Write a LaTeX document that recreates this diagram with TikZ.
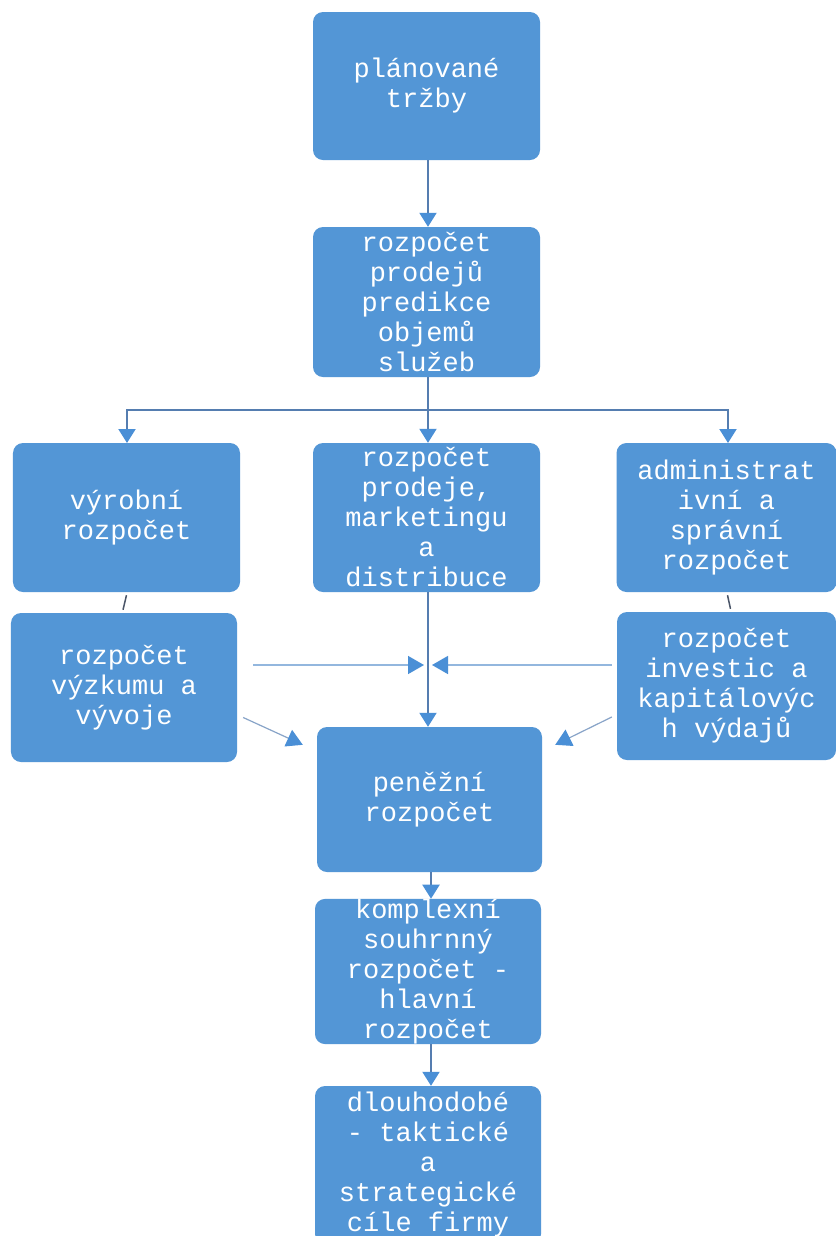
\documentclass[tikz,border=0pt]{standalone}
\usepackage{fontspec}
\setmonofont{Liberation Mono}
\usetikzlibrary{arrows.meta,calc}
\definecolor{boxblue}{HTML}{5396D6}
\definecolor{linec}{HTML}{557DB0}
\definecolor{tipc}{HTML}{4A8FD6}
\definecolor{thinc}{HTML}{93B7DE}
\definecolor{darkc}{HTML}{4A5568}
\tikzset{
  bx/.style={rectangle, rounded corners=10bp, fill=boxblue, text=white,
    font=\ttfamily\fontsize{27bp}{30bp}\selectfont, align=center,
    inner sep=0pt, minimum width=227bp, minimum height=149bp},
  conn/.style={draw=linec, line width=2bp,
    -{Triangle[width=17bp,length=14bp,color=tipc]}},
  plain/.style={draw=linec, line width=2bp},
  thinconn/.style={draw=thinc, line width=1.5bp,
    -{Triangle[width=18bp,length=16bp,color=tipc]}},
  diagconn/.style={draw=linec!70, line width=1.2bp,
    -{Triangle[width=18bp,length=16bp,color=tipc]}},
  tiny/.style={draw=darkc, line width=1.5bp}
}
\begin{document}
\begin{tikzpicture}[x=1bp,y=-1bp]
\fill[white] (0,0) rectangle (836,1236);
\useasboundingbox (0,0) rectangle (836,1236);

\node[bx, minimum height=148bp] (b1) at (426.5,86) {plánované\\tržby};
\node[bx, minimum height=150bp] (b2) at (426.5,302) {rozpočet\\prodejů\\predikce\\objemů\\služeb};
\node[bx] (b3L) at (126.5,517.5) {výrobní\\rozpočet};
\node[bx] (b3M) at (426.5,517.5) {rozpočet\\prodeje,\\marketingu\\a\\distribuce};
\node[bx, minimum width=220bp] (b3R) at (726.5,517.5) {administrat\\ivní a\\správní\\rozpočet};
\node[bx, minimum width=226bp] (b4L) at (124,687.5) {rozpočet\\výzkumu a\\vývoje};
\node[bx, minimum width=219bp, minimum height=148bp] (b4R) at (726.5,686) {rozpočet\\investic a\\kapitálovýc\\h výdajů};
\node[bx, minimum width=225bp, minimum height=145bp] (b5) at (429.5,799.5) {peněžní\\rozpočet};
\node[bx, minimum width=226bp, minimum height=143bp] (b6) at (428,971.5) {komplexní\\souhrnný\\rozpočet -\\hlavní\\rozpočet};
\node[bx, minimum width=226bp, minimum height=158bp] (b7) at (428,1165) {dlouhodobé\\- taktické\\a\\strategické\\cíle firmy};

% top arrow
\draw[conn] (b1.south -| 428,0) -- (b2.north -| 428,0);

% branching
\coordinate (j) at (428,410);
\draw[plain] (b2.south -| j) -- (j);
\draw[conn] (j) -| (127,443);
\draw[conn] (j) -- (b3M.north -| j);
\draw[conn] (j) -| (728,443);

% tiny links
\draw[tiny] (b3L.south) ++(0,3) -- ($(b4L.north)+(-1,-3)$);
\draw[tiny] ($(b3R.south)+(1,3)$) -- ($(b4R.north)+(4,-3)$);

% center vertical
\coordinate (m) at (428,665);
\draw[conn] (b3M.south -| j) -- (b5.north -| j);
\draw[thinconn, shorten <=16bp, shorten >=4bp] (b4L.east |- m) -- (m);
\draw[thinconn, shorten <=5bp, shorten >=4bp] (b4R.west |- m) -- (m);

% diagonals
\draw[diagconn] ($(b4L.east)+(6,30)$) -- ($(b5.north west)+(-14,18)$);
\draw[diagconn] ($(b4R.west)+(-5,31)$) -- ($(b5.north east)+(13,18)$);

% lower arrows
\draw[conn] (b5.south -| 431,0) -- (b6.north -| 431,0);
\draw[conn] (b6.south -| 431,0) -- (b7.north -| 431,0);
\end{tikzpicture}
\end{document}
